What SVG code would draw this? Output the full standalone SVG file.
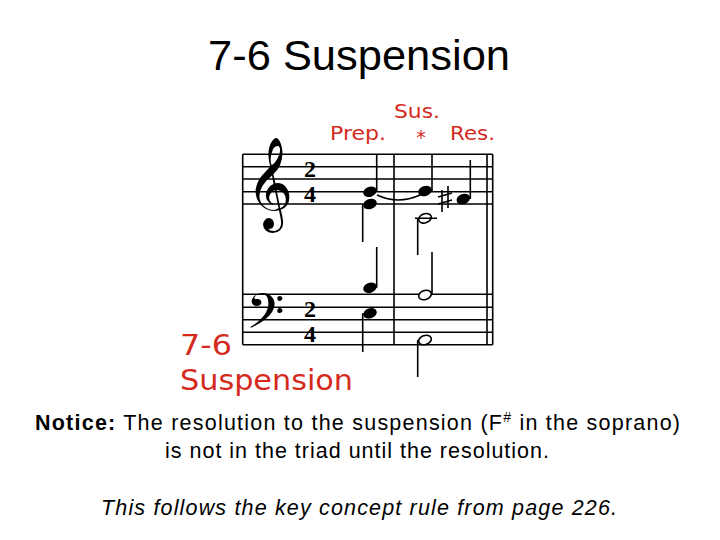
<svg xmlns="http://www.w3.org/2000/svg" width="720" height="540" viewBox="0 0 720 540">
<style>
.t{font-family:"Liberation Sans",Arial,sans-serif;fill:#000}
.r{font-family:"DejaVu Sans",sans-serif;fill:#d42a1e}
.l{stroke:#000;stroke-width:1.6;fill:none}
.s{stroke:#000;stroke-width:1.6}
.ts{font-family:"Liberation Serif",serif;font-weight:bold;font-size:24px;fill:#000}
</style>
<rect width="720" height="540" fill="#fff"/>
<text class="t" x="208" y="70" font-size="43" textLength="302" lengthAdjust="spacingAndGlyphs">7-6 Suspension</text>
<g id="labels">
<text class="r" x="394" y="118" font-size="19" textLength="46" lengthAdjust="spacingAndGlyphs">Sus.</text>
<text class="r" x="330" y="140" font-size="19" textLength="56" lengthAdjust="spacingAndGlyphs">Prep.</text>
<text class="r" x="421" y="144" font-size="19" text-anchor="middle">*</text>
<text class="r" x="450" y="140" font-size="19" textLength="45" lengthAdjust="spacingAndGlyphs">Res.</text>
<text class="r" x="180" y="355" font-size="28" textLength="52" lengthAdjust="spacingAndGlyphs">7-6</text>
<text class="r" x="180" y="390" font-size="28" textLength="173" lengthAdjust="spacingAndGlyphs">Suspension</text>
</g>
<g id="staves">
<path class="l" d="M242.7 154.3H492.7M242.7 166.7H492.7M242.7 179H492.7M242.7 191.7H492.7M242.7 204H492.7"/>
<path class="l" d="M242.7 294.3H492.7M242.7 307.3H492.7M242.7 319.7H492.7M242.7 332.3H492.7M242.7 344.7H492.7"/>
<path class="l" d="M242.7 154.3V344.7M394 154.3V344.7M487 154.3V344.7M492.7 154.3V344.7"/>
<text x="246" y="210" font-family="DejaVu Sans,sans-serif" font-size="80">𝄞</text>
<text x="246" y="338" font-family="DejaVu Sans,sans-serif" font-size="60">𝄢</text>
<text class="ts" x="310" y="177" text-anchor="middle">2</text>
<text class="ts" x="310" y="202" text-anchor="middle">4</text>
<text class="ts" x="310" y="317" text-anchor="middle">2</text>
<text class="ts" x="310" y="342" text-anchor="middle">4</text>
</g>
<g id="notes">
<ellipse cx="370" cy="191.7" rx="7" ry="5" transform="rotate(-20 370 191.7)"/>
<ellipse cx="370" cy="204" rx="7" ry="5" transform="rotate(-20 370 204)"/>
<path class="s" d="M376.7 191.7V154.3M362.7 204V242"/>
<ellipse cx="370" cy="287.7" rx="7" ry="5" transform="rotate(-20 370 287.7)"/>
<ellipse cx="370" cy="313.3" rx="7" ry="5" transform="rotate(-20 370 313.3)"/>
<path class="s" d="M376.7 287.7V247M362.7 313.3V352"/>
<path class="l" d="M377 195Q398 205 420 195"/>
<ellipse cx="425" cy="191" rx="7" ry="5" transform="rotate(-20 425 191)"/>
<path class="s" d="M432 191V154.3"/>
<ellipse cx="425" cy="218.3" rx="6.5" ry="4.5" transform="rotate(-20 425 218.3)" fill="#fff" stroke="#000" stroke-width="1.6"/>
<path class="s" d="M415 218.3H437M417.7 218.3V255"/>
<ellipse cx="425" cy="295" rx="6.5" ry="4.5" transform="rotate(-20 425 295)" fill="#fff" stroke="#000" stroke-width="1.6"/>
<path class="s" d="M432 295V252"/>
<ellipse cx="425" cy="340" rx="6.5" ry="4.5" transform="rotate(-20 425 340)" fill="#fff" stroke="#000" stroke-width="1.6"/>
<path class="s" d="M417.7 340V377"/>
<path class="s" d="M442 190V212M448 186V208M438 197L452 193M438 204L452 200"/>
<ellipse cx="463.3" cy="199" rx="7" ry="5" transform="rotate(-20 463.3 199)"/>
<path class="s" d="M470.3 199V160"/>
</g>
<text class="t" x="35" y="430" font-size="21.5" textLength="645"><tspan font-weight="bold">Notice:</tspan>  The resolution to the suspension (F<tspan font-size="14" dy="-8">#</tspan><tspan dy="8"> in the soprano)</tspan></text>
<text class="t" x="165" y="458" font-size="21.5" textLength="384">is not in the triad until the resolution.</text>
<text class="t" x="101" y="515" font-size="21.5" font-style="italic" textLength="516">This follows the key concept rule from page 226.</text>
</svg>
